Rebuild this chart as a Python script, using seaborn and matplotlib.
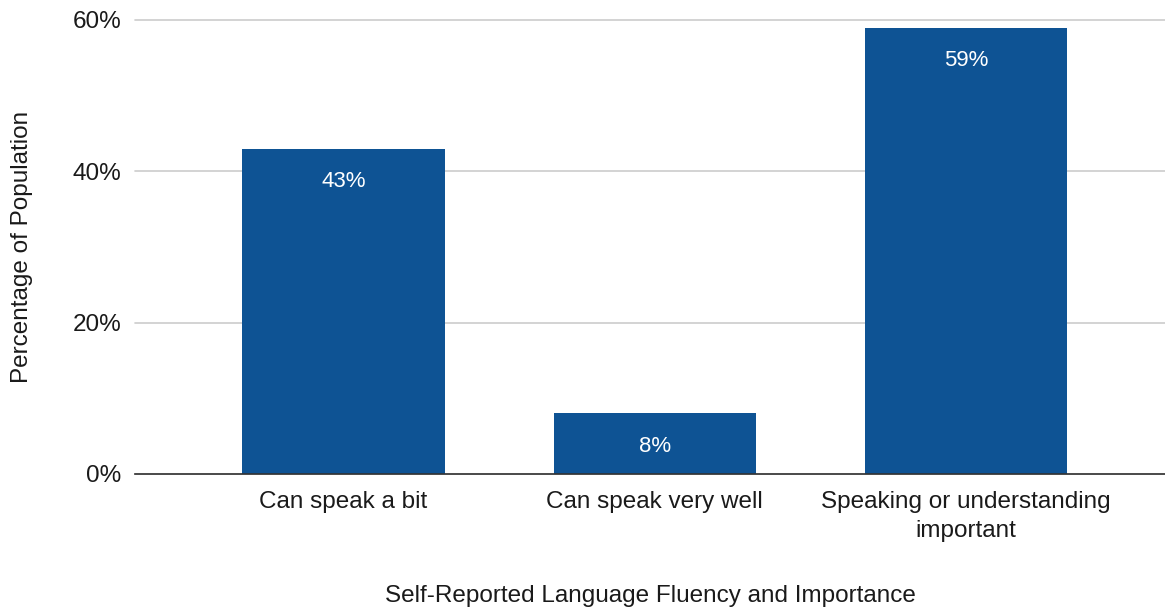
import matplotlib
matplotlib.use('Agg')
import matplotlib.pyplot as plt
import seaborn as sns
import pandas as pd

categories = ['Can speak a bit', 'Can speak very well', 'Speaking or understanding\nimportant']
values = [0.43, 0.08, 0.59]
labels = ['43%', '8%', '59%']
y_ticks = [0, 0.2, 0.4, 0.6]
y_tick_labels = ['0%', '20%', '40%', '60%']

df = pd.DataFrame({'category': categories, 'value': values})

sns.set_style('white')
plt.rcParams['font.family'] = ['Liberation Sans', 'DejaVu Sans']
plt.rcParams['text.color'] = '#1a1a1a'
plt.rcParams['xtick.color'] = '#1a1a1a'
plt.rcParams['ytick.color'] = '#1a1a1a'
plt.rcParams['axes.labelcolor'] = '#1a1a1a'

fig = plt.figure(figsize=(11.65, 6.1), dpi=100)
ax = fig.add_axes([135 / 1165, 1 - 474 / 610, 1 - 135 / 1165, (474 - 20) / 610])

sns.barplot(data=df, x='category', y='value', color='#0E5394', saturation=1,
            width=0.65, ax=ax, zorder=3, linewidth=0)

ax.set_xlim(-0.67, 2.64)
ax.set_ylim(0, 0.6)
ax.set_yticks(y_ticks)
ax.set_yticklabels(y_tick_labels, fontsize=17.5)
ax.tick_params(axis='x', labelsize=17.5, length=0, pad=12)
ax.tick_params(axis='y', length=0, pad=10)
for t in ax.get_xticklabels():
    t.set_linespacing(1.45)
ax.grid(axis='y', color='#cccccc', linewidth=1.2, zorder=0)
for gl in ax.get_ygridlines():
    gl.set_clip_on(False)
for s in ['top', 'right', 'left']:
    ax.spines[s].set_visible(False)
ax.spines['bottom'].set_color('#333333')
ax.spines['bottom'].set_linewidth(1.2)
ax.spines['bottom'].set_zorder(4)

ax.bar_label(ax.containers[0], labels=labels, label_type='edge', padding=-31,
             color='white', fontsize=16)

ax.set_xlabel('Self-Reported Language Fluency and Importance', fontsize=17.5, labelpad=31)
ax.set_ylabel('Percentage of Population', fontsize=17.5, labelpad=28)

fig.savefig('out.png', dpi=100)
